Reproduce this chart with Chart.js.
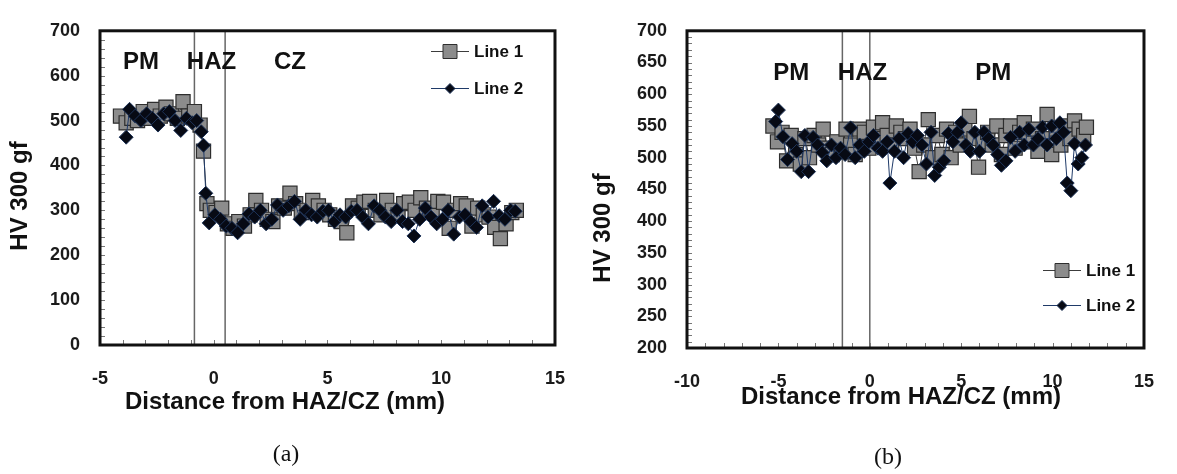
<!DOCTYPE html>
<html>
<head>
<meta charset="utf-8">
<script src="https://cdn.jsdelivr.net/npm/chart.js@4.4.1/dist/chart.umd.min.js"></script>
<style>
  body { margin: 0; background: #fff; }
  #wrap { position: relative; width: 1177px; height: 474px; }
  canvas { position: absolute; top: 0; }
</style>
</head>
<body>
<div id="wrap">
  <canvas id="chartA" width="588" height="474" style="left:0"></canvas>
  <canvas id="chartB" width="589" height="474" style="left:588px"></canvas>
</div>
<script>
// ---- (a) : PM / HAZ / CZ ----
const xA1 = [-4.1, -3.85, -3.6, -3.35, -3.1, -2.85, -2.6, -2.35, -2.1, -1.85,
             -1.6, -1.35, -1.1, -0.85, -0.6, -0.45, -0.3, -0.15, 0.1, 0.35,
             0.6, 0.85, 1.1, 1.35, 1.6, 1.85, 2.1, 2.35, 2.6, 2.85,
             3.1, 3.35, 3.6, 3.85, 4.1, 4.35, 4.6, 4.85, 5.1, 5.35,
             5.6, 5.85, 6.1, 6.35, 6.6, 6.85, 7.1, 7.35, 7.6, 7.85,
             8.1, 8.35, 8.6, 8.85, 9.1, 9.35, 9.6, 9.85, 10.1, 10.35,
             10.6, 10.85, 11.1, 11.35, 11.6, 11.85, 12.1, 12.35, 12.6, 12.85,
             13.1, 13.3];
const yA1 = [510, 495, 505, 500, 520, 505, 525, 510, 530, 515,
             505, 542, 510, 520, 490, 432, 315, 300, 295, 305,
             270, 260, 275, 265, 290, 322, 300, 280, 275, 310,
             305, 338, 315, 295, 300, 322, 310, 300, 290, 280,
             275, 250, 310, 305, 318, 320, 300, 290, 322, 300,
             290, 315, 318, 300, 328, 305, 295, 320, 318, 260,
             300, 315, 310, 265, 305, 290, 285, 262, 237, 270,
             295, 300];
const xA2 = [-3.85, -3.7, -3.45, -3.2, -2.95, -2.7, -2.45, -2.2, -1.95, -1.7,
             -1.45, -1.2, -0.95, -0.75, -0.55, -0.45, -0.35, -0.2, 0.05, 0.3,
             0.55, 0.8, 1.05, 1.3, 1.55, 1.8, 2.05, 2.3, 2.55, 2.8,
             3.05, 3.3, 3.55, 3.8, 4.05, 4.3, 4.55, 4.8, 5.05, 5.3,
             5.55, 5.8, 6.05, 6.3, 6.55, 6.8, 7.05, 7.3, 7.55, 7.8,
             8.05, 8.3, 8.55, 8.8, 9.05, 9.3, 9.55, 9.8, 10.05, 10.3,
             10.55, 10.8, 11.05, 11.3, 11.55, 11.8, 12.05, 12.3, 12.55, 12.8,
             13.05, 13.25];
const yA2 = [463, 525, 510, 500, 515, 505, 490, 515, 520, 500,
             478, 505, 495, 500, 475, 445, 338, 272, 290, 280,
             265, 260, 250, 270, 292, 285, 300, 270, 280, 312,
             300, 310, 320, 280, 300, 290, 285, 298, 300, 275,
             290, 285, 298, 300, 285, 270, 310, 300, 285, 275,
             300, 275, 270, 243, 280, 305, 285, 270, 280, 300,
             247, 285, 290, 275, 262, 310, 285, 320, 288, 280,
             300, 298];
const zoneLinesA = [-0.85, 0.5];
const zoneNamesA = ['PM', 'HAZ', 'CZ'];
const zoneXA = [-3.2, -0.1, 3.35];

// ---- (b) : PM / HAZ / PM ----
const xB1 = [-5.3, -5.05, -4.8, -4.55, -4.3, -4.05, -3.8, -3.55, -3.3, -3.05,
             -2.8, -2.55, -2.3, -2.05, -1.8, -1.55, -1.3, -1.05, -0.8, -0.55,
             -0.3, -0.05, 0.2, 0.45, 0.7, 0.95, 1.2, 1.45, 1.7, 1.95,
             2.2, 2.45, 2.7, 2.95, 3.2, 3.45, 3.7, 3.95, 4.2, 4.45,
             4.7, 4.95, 5.2, 5.45, 5.7, 5.95, 6.2, 6.45, 6.7, 6.95,
             7.2, 7.45, 7.7, 7.95, 8.2, 8.45, 8.7, 8.95, 9.2, 9.45,
             9.7, 9.95, 10.2, 10.45, 10.7, 10.95, 11.2, 11.45, 11.7, 11.85];
const yB1 = [550, 525, 540, 495, 535, 505, 490, 530, 500, 535,
             520, 545, 515, 505, 525, 510, 545, 520, 505, 545,
             540, 515, 548, 530, 555, 535, 520, 550, 540, 530,
             545, 515, 478, 520, 560, 500, 535, 505, 545, 500,
             540, 520, 545, 565, 530, 485, 525, 540, 520, 550,
             505, 535, 550, 515, 540, 555, 525, 545, 510, 530,
             568, 505, 545, 520, 550, 530, 558, 545, 535, 548];
const xB2 = [-5.15, -5.0, -4.75, -4.5, -4.25, -4.0, -3.75, -3.55, -3.35, -3.1,
             -2.85, -2.6, -2.35, -2.1, -1.85, -1.6, -1.35, -1.05, -0.8, -0.55,
             -0.3, -0.05, 0.2, 0.45, 0.7, 0.95, 1.1, 1.35, 1.6, 1.85,
             2.1, 2.35, 2.6, 2.85, 3.1, 3.35, 3.55, 3.8, 4.05, 4.3,
             4.55, 4.8, 5.0, 5.25, 5.5, 5.75, 6.0, 6.25, 6.5, 6.75,
             7.0, 7.2, 7.45, 7.7, 7.95, 8.2, 8.45, 8.7, 8.95, 9.2,
             9.45, 9.7, 9.95, 10.2, 10.4, 10.6, 10.8, 11.0, 11.2, 11.4,
             11.6, 11.8];
const yB2 = [557, 575, 533, 497, 522, 510, 478, 535, 478, 532,
             520, 508, 495, 520, 500, 515, 505, 547, 500, 520,
             510, 525, 535, 515, 510, 525, 460, 510, 530, 500,
             538, 525, 535, 520, 490, 540, 472, 485, 495, 538,
             525, 540, 555, 520, 510, 540, 510, 540, 530, 520,
             505, 488, 495, 532, 510, 540, 520, 545, 520, 530,
             548, 520, 550, 530, 555, 540, 460, 448, 522, 490,
             500, 520];
const zoneLinesB = [-1.5, 0];
const zoneNamesB = ['PM', 'HAZ', 'PM'];
const zoneXB = [-4.3, -0.4, 6.75];

const seriesNames = ['Line 1', 'Line 2'];

const FONT = '"Liberation Sans", Arial, sans-serif';

function pts(xs, ys) {
  return xs.map((x, i) => ({ x: x, y: ys[i] }));
}

// frame, minor ticks, zone labels, legend and titles
const decorPlugin = {
  id: 'decor',
  afterDatasetsDraw(chart, args, o) {
    const ctx = chart.ctx, a = chart.chartArea;
    const xs = chart.scales.x, ys = chart.scales.y;
    ctx.save();

    // minor ticks, inside
    ctx.strokeStyle = '#777';
    ctx.lineWidth = 1;
    ctx.beginPath();
    for (let v = xs.min; v <= xs.max; v += 1) {
      const px = Math.round(xs.getPixelForValue(v)) + 0.5;
      ctx.moveTo(px, a.bottom);
      ctx.lineTo(px, a.bottom - 5);
    }
    for (let v = ys.min; v <= ys.max; v += o.yMinor) {
      const py = Math.round(ys.getPixelForValue(v)) + 0.5;
      ctx.moveTo(a.left, py);
      ctx.lineTo(a.left + 5, py);
    }
    ctx.stroke();

    // frame
    ctx.strokeStyle = '#111';
    ctx.lineWidth = 3;
    ctx.strokeRect(a.left, a.top, a.right - a.left, a.bottom - a.top);

    // zone labels
    ctx.fillStyle = '#111';
    ctx.font = 'bold 24px ' + FONT;
    ctx.textAlign = 'center';
    ctx.textBaseline = 'middle';
    o.zoneNames.forEach((t, i) => {
      ctx.fillText(t, xs.getPixelForValue(o.zoneX[i]), a.top + o.zoneDy);
    });

    // legend
    ctx.font = 'bold 17px ' + FONT;
    ctx.textAlign = 'left';
    chart.data.datasets.filter(d => d.label).forEach((d, i) => {
      const y0 = o.legendY[i] + 0.5;
      const x0 = o.legendX, x1 = o.legendX + 38, xm = (x0 + x1) / 2;
      ctx.strokeStyle = d.borderColor;
      ctx.lineWidth = 1;
      ctx.beginPath();
      ctx.moveTo(x0, y0);
      ctx.lineTo(x1, y0);
      ctx.stroke();
      ctx.fillStyle = d.pointBackgroundColor;
      ctx.strokeStyle = d.pointBorderColor;
      ctx.beginPath();
      if (d.pointStyle === 'rect') {
        ctx.rect(xm - 7, y0 - 7, 14, 14);
      } else {
        ctx.moveTo(xm, y0 - 5);
        ctx.lineTo(xm + 5, y0);
        ctx.lineTo(xm, y0 + 5);
        ctx.lineTo(xm - 5, y0);
        ctx.closePath();
      }
      ctx.fill();
      ctx.stroke();
      ctx.fillStyle = '#111';
      ctx.fillText(d.label, x1 + 5, y0 + 1);
    });

    // axis titles
    ctx.fillStyle = '#111';
    ctx.font = 'bold 24px ' + FONT;
    ctx.textAlign = 'center';
    ctx.fillText('Distance from HAZ/CZ (mm)', o.xTitle[0], o.xTitle[1]);
    ctx.save();
    ctx.translate(o.yTitle[0], o.yTitle[1]);
    ctx.rotate(-Math.PI / 2);
    ctx.fillText('HV 300 gf', 0, 0);
    ctx.restore();

    // caption
    ctx.font = '24px "Liberation Serif", "Times New Roman", serif';
    ctx.fillText(o.caption, o.capPos[0], o.capPos[1]);
    ctx.restore();
  }
};

function makeChart(id, c) {
  const datasets = [
    {
      label: seriesNames[0], data: pts(c.x1, c.y1), showLine: true,
      borderColor: '#3c3c3c', borderWidth: 1,
      pointStyle: 'rect', pointRadius: 10,
      pointBackgroundColor: '#8c8c8c', pointBorderColor: '#2e2e2e', pointBorderWidth: 1.2,
      order: 2
    },
    {
      label: seriesNames[1], data: pts(c.x2, c.y2), showLine: true,
      borderColor: '#1f3a68', borderWidth: 1,
      pointStyle: 'rectRot', pointRadius: 7,
      pointBackgroundColor: '#070a14', pointBorderColor: '#1d3358', pointBorderWidth: 1,
      order: 1
    }
  ];
  c.lines.forEach(v => {
    datasets.push({
      data: [{ x: v, y: c.yMin }, { x: v, y: c.yMax }], showLine: true,
      borderColor: '#666', borderWidth: 1.5, pointRadius: 0, order: 3
    });
  });

  new Chart(document.getElementById(id), {
    type: 'scatter',
    data: { datasets: datasets },
    options: {
      responsive: false,
      animation: false,
      devicePixelRatio: 1,
      layout: { padding: c.pad },
      plugins: {
        legend: { display: false },
        tooltip: { enabled: false },
        decor: c.decor
      },
      scales: {
        x: {
          type: 'linear', min: c.xMin, max: c.xMax,
          ticks: { stepSize: 5, padding: 23, color: '#1a1a1a', font: { family: FONT, size: 18, weight: 'bold' } },
          grid: { display: false, drawTicks: false },
          border: { display: false },
          afterFit: s => { s.height = c.xHeight; }
        },
        y: {
          min: c.yMin, max: c.yMax,
          ticks: { stepSize: c.yStep, padding: 20, color: '#1a1a1a', font: { family: FONT, size: 18, weight: 'bold' } },
          grid: { display: false, drawTicks: false },
          border: { display: false },
          afterFit: s => { s.width = c.yWidth; }
        }
      }
    },
    plugins: [decorPlugin]
  });
}

makeChart('chartA', {
  x1: xA1, y1: yA1, x2: xA2, y2: yA2, lines: zoneLinesA,
  xMin: -5, xMax: 15, yMin: 0, yMax: 700, yStep: 100,
  pad: { left: 0, top: 13, right: 27, bottom: 0 }, yWidth: 100, xHeight: 129,
  decor: {
    yMinor: 20, zoneNames: zoneNamesA, zoneX: zoneXA, zoneDy: 32,
    legendX: 431, legendY: [51, 88],
    xTitle: [285, 402], yTitle: [20, 196], caption: '(a)', capPos: [286, 455]
  }
});

makeChart('chartB', {
  x1: xB1, y1: yB1, x2: xB2, y2: yB2, lines: zoneLinesB,
  xMin: -10, xMax: 15, yMin: 200, yMax: 700, yStep: 50,
  pad: { left: 0, top: 18, right: 14, bottom: 0 }, yWidth: 99, xHeight: 126,
  decor: {
    yMinor: 10, zoneNames: zoneNamesB, zoneX: zoneXB, zoneDy: 43,
    legendX: 455, legendY: [270, 305],
    xTitle: [313, 397], yTitle: [15, 228], caption: '(b)', capPos: [300, 458]
  }
});
</script>
</body>
</html>
